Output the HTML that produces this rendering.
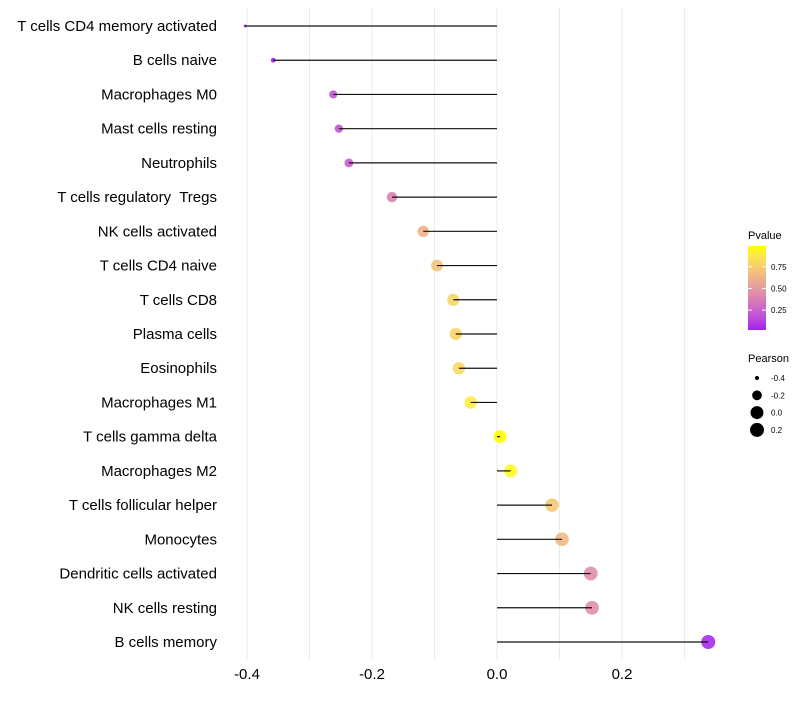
<!DOCTYPE html>
<html><head><meta charset="utf-8"><style>
body{margin:0;background:#fff;font-family:"Liberation Sans",sans-serif}
text{white-space:pre}
</style></head><body>
<svg id="chart" width="800" height="700" xmlns="http://www.w3.org/2000/svg" font-family="Liberation Sans, sans-serif"></svg>
<script>
const categories=["T cells CD4 memory activated","B cells naive","Macrophages M0","Mast cells resting","Neutrophils","T cells regulatory  Tregs","NK cells activated","T cells CD4 naive","T cells CD8","Plasma cells","Eosinophils","Macrophages M1","T cells gamma delta","Macrophages M2","T cells follicular helper","Monocytes","Dendritic cells activated","NK cells resting","B cells memory"];
const pearson=[-0.403,-0.358,-0.262,-0.253,-0.237,-0.168,-0.118,-0.096,-0.070,-0.066,-0.061,-0.042,0.005,0.022,0.088,0.104,0.150,0.152,0.338];
const pvalue=[0.02,0.03,0.2,0.2,0.22,0.4,0.62,0.7,0.78,0.78,0.8,0.9,0.99,0.95,0.73,0.65,0.45,0.45,0.05];
const xTicks=[-0.4,-0.2,0.0,0.2];
const xGrid=[-0.4,-0.3,-0.2,-0.1,0,0.1,0.2,0.3];
const pTicks=[0.25,0.5,0.75];
const sizeLegend=[-0.4,-0.2,0.0,0.2];
const NS="http://www.w3.org/2000/svg";
const svg=document.getElementById('chart');
function mk(t,a,p){const e=document.createElementNS(NS,t);for(const k in a)e.setAttribute(k,a[k]);(p||svg).appendChild(e);return e;}
const x=v=>497+v*625;
const y=i=>26+i*(642-26)/18;
const rad=v=>{const t=Math.min(1,Math.max(0,(0.338-v)/0.741));return Math.max(1.3,7-5.5*Math.pow(t,3));};
function toLab(h){let r=parseInt(h.substr(1,2),16)/255,g=parseInt(h.substr(3,2),16)/255,b=parseInt(h.substr(5,2),16)/255;
const f=c=>c>0.04045?Math.pow((c+0.055)/1.055,2.4):c/12.92;r=f(r);g=f(g);b=f(b);
let X=(r*0.4124+g*0.3576+b*0.1805)/0.95047,Y=r*0.2126+g*0.7152+b*0.0722,Z=(r*0.0193+g*0.1192+b*0.9505)/1.08883;
const q=t=>t>0.008856?Math.cbrt(t):7.787*t+16/116;X=q(X);Y=q(Y);Z=q(Z);return[116*Y-16,500*(X-Y),200*(Y-Z)];}
function fromLab(L,a,bb){let Y=(L+16)/116,X=a/500+Y,Z=Y-bb/200;const q=t=>t**3>0.008856?t**3:(t-16/116)/7.787;
X=q(X)*0.95047;Y=q(Y);Z=q(Z)*1.08883;let r=X*3.2406+Y*-1.5372+Z*-0.4986,g=X*-0.9689+Y*1.8758+Z*0.0415,b=X*0.0557+Y*-0.2040+Z*1.0570;
const f=c=>{c=c>0.0031308?1.055*Math.pow(c,1/2.4)-0.055:12.92*c;return Math.round(Math.min(1,Math.max(0,c))*255);};return`rgb(${f(r)},${f(g)},${f(b)})`;}
const lo=toLab("#A020F0"),hi=toLab("#FFFF00");const pmin=0.02,pmax=0.99;
function col(p){const t=Math.min(1,Math.max(0,(p-pmin)/(pmax-pmin)));return fromLab(lo[0]+(hi[0]-lo[0])*t,lo[1]+(hi[1]-lo[1])*t,lo[2]+(hi[2]-lo[2])*t);}
xGrid.forEach(v=>{const l=mk('line',{x1:x(v),x2:x(v),y1:8,y2:660,stroke:'#ebebeb','stroke-width':1});
});
xTicks.forEach(v=>{const t=mk('text',{x:x(v),y:679,'text-anchor':'middle','font-size':15,fill:'#000'});t.textContent=v.toFixed(1);
});
categories.forEach((c,i)=>{
const t=mk('text',{x:217,y:y(i)+5,'text-anchor':'end','font-size':15,fill:'#000'});t.textContent=c;

const d=mk('circle',{cx:x(pearson[i]),cy:y(i),r:rad(pearson[i]),fill:col(pvalue[i]),'fill-opacity':0.9});

const s=mk('line',{x1:x(0),x2:x(pearson[i]),y1:y(i),y2:y(i),stroke:'#111','stroke-width':1.2});

});
const ct=mk('text',{x:748,y:239,'font-size':11});ct.textContent='Pvalue';
const defs=mk('defs',{});const g=mk('linearGradient',{id:'pg',x1:0,y1:1,x2:0,y2:0},defs);
for(let k=0;k<=10;k++){mk('stop',{offset:k/10,'stop-color':col(pmin+(pmax-pmin)*k/10)},g);}
const py=p=>330-(p-pmin)/(pmax-pmin)*84;
const bar=mk('rect',{x:748,y:246,width:18,height:84,fill:'url(#pg)'});
pTicks.forEach(p=>{mk('line',{x1:748,x2:752,y1:py(p),y2:py(p),stroke:'#fff'});mk('line',{x1:762,x2:766,y1:py(p),y2:py(p),stroke:'#fff'});
const t=mk('text',{x:771,y:py(p)+3,'font-size':8});t.textContent=p.toFixed(2);});
const st=mk('text',{x:748,y:362,'font-size':11});st.textContent='Pearson';
sizeLegend.forEach((v,k)=>{const cy=378+k*17.3;const c=mk('circle',{cx:757,cy:cy,r:Math.max(2,rad(v)),fill:'#000'});
const t=mk('text',{x:771,y:cy+3,'font-size':8});t.textContent=v.toFixed(1);});
</script>
</body></html>
